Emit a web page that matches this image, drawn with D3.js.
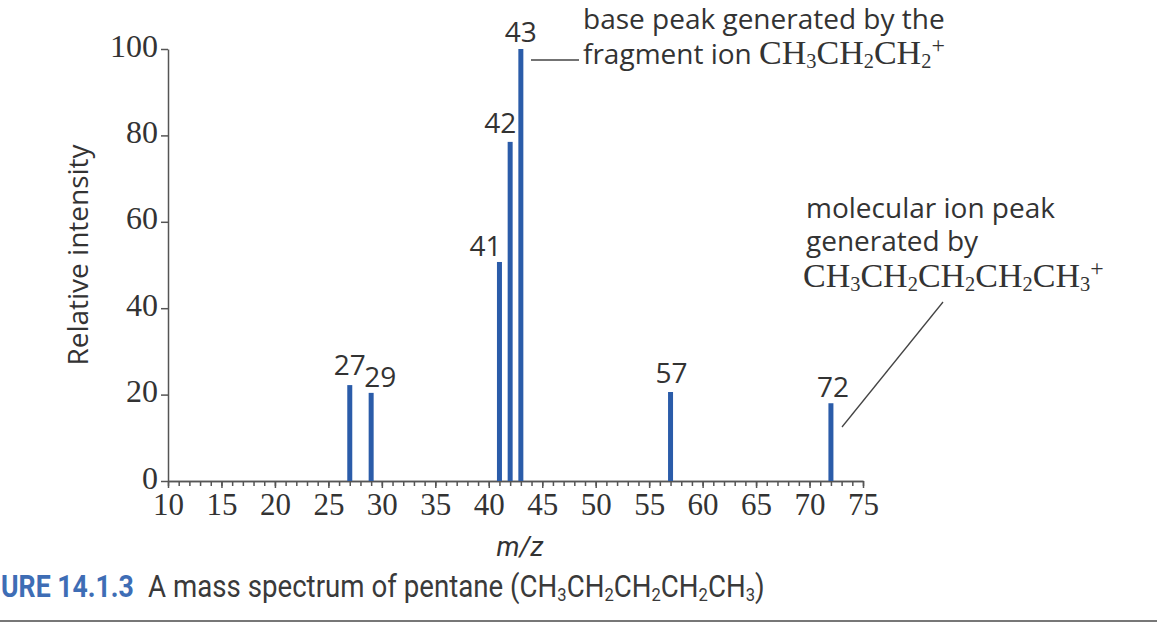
<!DOCTYPE html>
<html>
<head>
<meta charset="utf-8">
<script src="https://cdn.jsdelivr.net/npm/d3@7"></script>
<style>
  body { margin: 0; background: #fff; }
  svg { display: block; }
  .tick text { font-family: "Liberation Serif", "DejaVu Serif", serif; fill: #333; }
</style>
</head>
<body>
<svg id="chart" width="1157" height="627"></svg>
<script>
// peaks of the pentane spectrum
const mz = [27, 29, 41, 42, 43, 57, 72];
const intensity = [22.2, 20.4, 50.7, 78.5, 100, 20.6, 18];
// label nudges (px) so 27/29 and 41/42/43 don't collide, as in the figure
const labelDx = [0, 9, -14, -10, 0, 1, 2];
const labelDy = [-2, 2, 2, -1, 1, -1, 2];

const yTicks = [0, 20, 40, 60, 80, 100];
const xTicks = [10, 15, 20, 25, 30, 35, 40, 45, 50, 55, 60, 65, 70, 75];

const svg = d3.select('#chart');
const ink = '#333';
const barColor = '#2b5ca9';
const sans = '"Open Sans", sans-serif';
const serif = '"Liberation Serif", serif';

const x = d3.scaleLinear().domain([10, 75]).range([168, 863]);
const y = d3.scaleLinear().domain([0, 100]).range([481, 49]);

// y axis
const yAxis = svg.append('g')
    .attr('transform', `translate(${x(10)},0)`)
    .call(d3.axisLeft(y).tickValues(yTicks).tickSize(7).tickSizeOuter(0).tickPadding(3));
yAxis.selectAll('text').style('font-size', '32px').attr('dy', '0.22em');

// x axis: minor ticks every unit, longer ticks every 5
svg.append('g')
    .attr('transform', `translate(0,${y(0)})`)
    .call(d3.axisBottom(x).tickValues(d3.range(10, 76)).tickSize(5).tickSizeOuter(0).tickFormat(''));
const xAxis = svg.append('g')
    .attr('transform', `translate(0,${y(0)})`)
    .call(d3.axisBottom(x).tickValues(xTicks).tickSize(7).tickSizeOuter(0).tickPadding(5));
xAxis.selectAll('text').style('font-size', '31px');

svg.selectAll('.domain, .tick line').attr('stroke', '#555').attr('stroke-width', 1.5);

// bars
const peaks = mz.map((m, i) => ({ m, v: intensity[i], dx: labelDx[i], dy: labelDy[i] }));
svg.append('g').selectAll('rect')
    .data(peaks)
    .join('rect')
    .attr('x', d => x(d.m) - 2.5)
    .attr('width', 5)
    .attr('y', d => y(d.v))
    .attr('height', d => y(0) - y(d.v))
    .attr('fill', barColor);

svg.append('g').selectAll('text')
    .data(peaks)
    .join('text')
    .attr('x', d => x(d.m) + d.dx)
    .attr('y', d => y(d.v) - 8 + d.dy)
    .attr('text-anchor', 'middle')
    .style('font-family', sans)
    .style('font-size', '28px')
    .attr('fill', ink)
    .text(d => d.m);

// axis titles
svg.append('text')
    .attr('transform', 'translate(88,255) rotate(-90)')
    .attr('text-anchor', 'middle')
    .style('font-family', sans)
    .style('font-size', '28px')
    .attr('fill', ink)
    .text('Relative intensity');

svg.append('text')
    .attr('x', 520)
    .attr('y', 556)
    .attr('text-anchor', 'middle')
    .style('font-family', 'Roboto, sans-serif')
    .style('font-style', 'italic')
    .style('font-size', '27px')
    .attr('fill', ink)
    .text('m/z');

// formula helper: parts as [text, 'sub' | 'sup' | undefined]
function formula(sel, parts, size) {
    parts.forEach(p => {
        const t = sel.append('tspan').text(p[0]);
        if (p[1] === 'sub') t.style('font-size', `${size * 0.6}px`).attr('baseline-shift', '-20%');
        else if (p[1] === 'sup') t.style('font-size', `${size * 0.7}px`).attr('baseline-shift', '45%');
        else t.style('font-size', `${size}px`);
    });
}

// base peak annotation
svg.append('line')
    .attr('x1', 531).attr('x2', 579)
    .attr('y1', 60).attr('y2', 60)
    .attr('stroke', '#444').attr('stroke-width', 1.3);
svg.append('text').attr('x', 583).attr('y', 29)
    .style('font-family', sans).style('font-size', '28px').attr('fill', ink)
    .text('base peak generated by the');
const t2 = svg.append('text').attr('x', 583).attr('y', 64).attr('fill', ink);
t2.append('tspan').style('font-family', sans).style('font-size', '28px').text('fragment ion ');
formula(t2.append('tspan').style('font-family', serif),
    [['CH'], ['3', 'sub'], ['CH'], ['2', 'sub'], ['CH'], ['2', 'sub'], ['+', 'sup']], 34);

// molecular ion annotation
svg.append('text').attr('x', 806).attr('y', 218)
    .style('font-family', sans).style('font-size', '28px').attr('fill', ink)
    .text('molecular ion peak');
svg.append('text').attr('x', 806).attr('y', 251)
    .style('font-family', sans).style('font-size', '28px').attr('fill', ink)
    .text('generated by');
formula(svg.append('text').attr('x', 803).attr('y', 287).attr('fill', ink).style('font-family', serif),
    [['CH'], ['3', 'sub'], ['CH'], ['2', 'sub'], ['CH'], ['2', 'sub'], ['CH'], ['2', 'sub'], ['CH'], ['3', 'sub'], ['+', 'sup']], 34);
svg.append('line')
    .attr('x1', 943).attr('y1', 302)
    .attr('x2', 842).attr('y2', 427)
    .attr('stroke', '#444').attr('stroke-width', 1.3);

// caption (condensed look by squeezing horizontally)
svg.append('text')
    .attr('transform', 'translate(1,597) scale(0.86,1)')
    .style('font-family', 'Roboto, sans-serif')
    .style('font-size', '31px')
    .style('font-weight', 'bold')
    .attr('fill', '#3e6db5')
    .text('URE 14.1.3');
const capRest = svg.append('text')
    .attr('transform', 'translate(148,597) scale(0.865,1)')
    .style('font-family', 'Roboto, sans-serif')
    .attr('fill', '#3a3a3a');
formula(capRest, [['A mass spectrum of pentane (CH'], ['3', 'sub'], ['CH'], ['2', 'sub'], ['CH'], ['2', 'sub'], ['CH'], ['2', 'sub'], ['CH'], ['3', 'sub'], [')']], 32);

svg.append('line')
    .attr('x1', 0).attr('x2', 1157)
    .attr('y1', 621).attr('y2', 621)
    .attr('stroke', '#777').attr('stroke-width', 2);
</script>
</body>
</html>
